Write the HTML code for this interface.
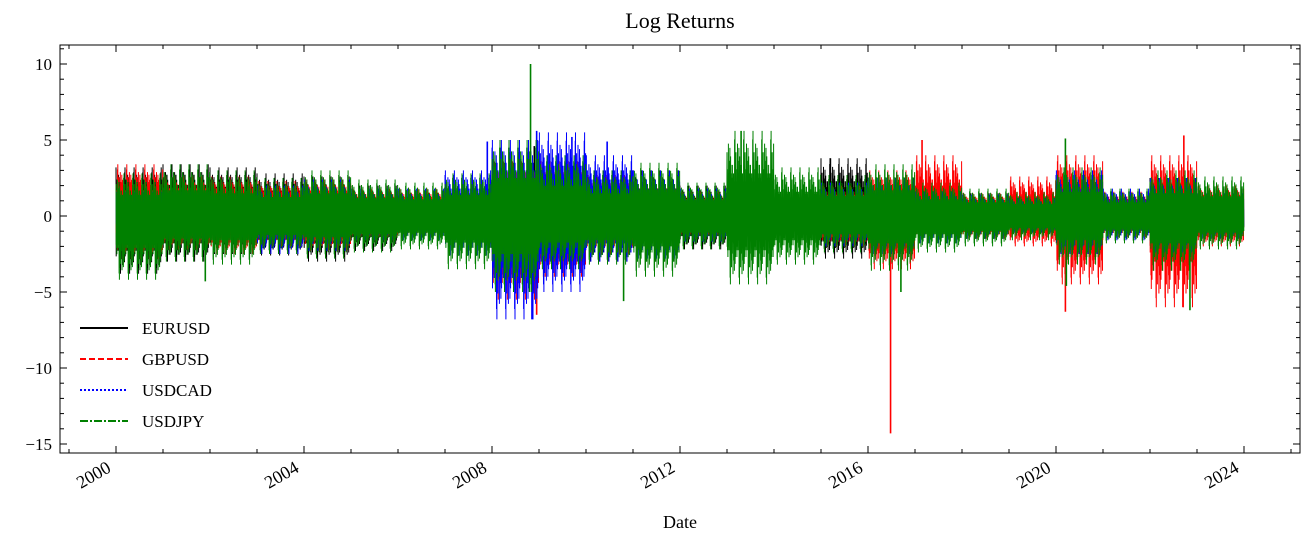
<!DOCTYPE html>
<html><head><meta charset="utf-8">
<style>
body{margin:0;background:#fff;}
svg text{font-family:"Liberation Serif","DejaVu Serif",serif;fill:#000;}
</style></head>
<body>
<svg id="chart" width="1310" height="542" viewBox="0 0 1310 542">
<rect x="0" y="0" width="1310" height="542" fill="#fff"/>
<text x="680" y="28" font-size="22" text-anchor="middle">Log Returns</text>
<text x="680" y="528" font-size="18" text-anchor="middle">Date</text>
<defs><clipPath id="pc"><rect x="60" y="45" width="1240" height="408"/></clipPath></defs>
<g id="series" clip-path="url(#pc)"></g>
<g id="axes"></g>
<g id="legend"></g>
</svg>
<script>
// Yearly envelope data (year index 2000..2023)
const years=[2000,2001,2002,2003,2004,2005,2006,2007,2008,2009,2010,2011,2012,2013,2014,2015,2016,2017,2018,2019,2020,2021,2022,2023];
const eurHi=[3.2,3.4,3.2,2.8,2.6,2.0,1.7,1.4,4.2,3.5,3.0,3.0,2.0,1.8,1.4,3.8,2.0,1.8,1.5,1.0,1.8,1.2,2.5,1.8];
const eurLo=[-3.8,-3.0,-2.5,-2.6,-3.0,-2.3,-1.6,-1.5,-4.2,-3.5,-3.0,-3.0,-2.2,-1.7,-1.5,-2.8,-1.8,-1.3,-1.5,-1.0,-1.6,-1.2,-2.8,-1.5];
const gbpHi=[3.4,2.6,2.6,2.3,2.4,1.8,1.8,1.6,3.6,3.6,2.7,2.3,1.6,1.6,1.4,2.0,3.0,4.0,1.5,2.6,4.0,1.6,4.0,2.0];
const gbpLo=[-2.8,-2.2,-2.5,-2.0,-2.3,-1.6,-1.4,-1.6,-5.5,-4.0,-2.5,-2.0,-1.5,-1.4,-1.1,-2.0,-3.5,-1.5,-1.5,-2.0,-4.5,-1.4,-6.0,-2.0];
const cadHi=[1.6,1.6,1.3,2.0,2.4,1.8,1.8,3.0,5.0,5.5,4.0,3.0,1.8,1.3,1.2,2.2,2.5,1.6,1.4,1.2,3.0,1.8,2.5,1.5];
const cadLo=[-1.5,-1.5,-1.4,-2.5,-2.3,-1.6,-1.6,-2.6,-6.8,-5.0,-3.0,-2.8,-1.7,-1.2,-1.2,-2.0,-2.5,-1.8,-1.5,-1.1,-2.5,-1.6,-2.4,-1.5];
const jpyHi=[2.8,3.4,3.0,2.5,3.0,2.4,2.2,2.8,5.0,4.0,3.0,3.5,2.2,5.6,3.2,2.7,3.4,2.2,1.8,1.6,3.2,1.8,3.0,2.6];
const jpyLo=[-4.2,-3.0,-3.2,-2.5,-2.8,-2.4,-2.2,-3.5,-5.0,-3.5,-3.2,-4.0,-2.2,-4.5,-3.2,-2.4,-3.6,-2.4,-2.0,-1.6,-3.2,-1.8,-3.6,-2.2];
// Notable spikes: [decimal year, value]
const eurSpikes=[[2008.9,4.6],[2015.2,3.8],[2009.1,-4.0]];
const gbpSpikes=[[2016.48,-14.3],[2008.95,-6.5],[2017.15,5.0],[2020.2,-6.3],[2022.72,5.3],[2022.7,-6.0],[2020.22,3.5]];
const cadSpikes=[[2008.85,-6.8],[2008.95,5.6],[2007.9,4.9],[2009.7,5.2],[2010.45,4.9]];
const jpySpikes=[[2008.82,10.0],[2008.8,-5.0],[2013.3,5.6],[2020.2,5.1],[2020.22,-4.6],[2022.85,-6.2],[2016.7,-5.0],[2001.9,-4.3],[2010.8,-5.6]];
const yTicks=[10,5,0,-5,-10,-15];
const yTickLabels=["10","5","0","\u22125","\u221210","\u221215"];
const xTicks=[2000,2004,2008,2012,2016,2020,2024];

const X=t=>116+(t-2000)*47;
const Y=v=>216-15.2*v;
const NS="http://www.w3.org/2000/svg";
function mk(tag,attrs,parent){const e=document.createElementNS(NS,tag);for(const k in attrs)e.setAttribute(k,attrs[k]);parent.appendChild(e);return e;}

const sg=document.getElementById('series');
const pat=[1,0.35,0.6,0.2,0.8,0.45,0.25,0.7,0.3,0.55,0.15,0.9,0.4,0.5,0.25,0.65,0.1,0.75,0.35,0.5,0.2,0.6,0.3,0.85,0.45];
const defs=[
 {name:'EURUSD',hi:eurHi,lo:eurLo,sp:eurSpikes,c:'#000',dash:'',off:0},
 {name:'GBPUSD',hi:gbpHi,lo:gbpLo,sp:gbpSpikes,c:'#f00',dash:'6,3',off:5},
 {name:'USDCAD',hi:cadHi,lo:cadLo,sp:cadSpikes,c:'#00f',dash:'2,2',off:11},
 {name:'USDJPY',hi:jpyHi,lo:jpyLo,sp:jpySpikes,c:'#008000',dash:'8,2,2,2',off:17}
];
defs.forEach(s=>{
  let d='';const n=260;
  years.forEach((yr,i)=>{
    for(let k=0;k<n;k++){
      const t=yr+k/n;const f=pat[(k*7+s.off)%pat.length];
      const v=(k%2?s.lo[i]:s.hi[i])*f;
      d+=(d?'L':'M')+X(t).toFixed(1)+','+Y(v).toFixed(1);
    }
  });
  const p=mk('path',{d:d,fill:'none',stroke:s.c,'stroke-width':1},sg);
  
  
  s.sp.forEach(([t,v])=>{
    const l=mk('path',{d:'M'+X(t)+','+Y(0)+'L'+X(t)+','+Y(v),stroke:s.c,'stroke-width':1.6,fill:'none'},sg);
    
    
  });
});

const ax=document.getElementById('axes');
const frame=mk('rect',{x:60,y:45,width:1240,height:408,fill:'none',stroke:'#000','stroke-width':1},ax);


for(let v=-15;v<=11;v++){
  const yy=Y(v);const major=v%5===0;const L=major?7:4;
  mk('line',{x1:60,x2:60+L,y1:yy,y2:yy,stroke:'#000'},ax);
  mk('line',{x1:1300,x2:1300-L,y1:yy,y2:yy,stroke:'#000'},ax);
}
yTicks.forEach((v,i)=>{
  const t=mk('text',{x:52,y:Y(v)+6,'font-size':17,'text-anchor':'end'},ax);
  t.textContent=yTickLabels[i];
  
  
});
for(let yr=1999;yr<=2025;yr++){
  const xx=X(yr);if(xx<60||xx>1300)continue;const major=yr%4===0;const L=major?7:4;
  mk('line',{x1:xx,x2:xx,y1:453,y2:453-L,stroke:'#000'},ax);
  mk('line',{x1:xx,x2:xx,y1:45,y2:45+L,stroke:'#000'},ax);
}
xTicks.forEach(yr=>{
  const ax0=X(yr)-4, ay0=471;
  const t=mk('text',{x:ax0,y:ay0,'font-size':18,'text-anchor':'end',transform:'rotate(-30 '+ax0+' '+ay0+')'},ax);
  t.textContent=String(yr);
  
  
});

const lg=document.getElementById('legend');
defs.forEach((s,i)=>{
  const yy=328+i*31;
  const l=mk('line',{x1:80,x2:128,y1:yy,y2:yy,stroke:s.c,'stroke-width':2,'stroke-dasharray':s.dash},lg);
  
  
  const t=mk('text',{x:142,y:yy+6,'font-size':17},lg);
  t.textContent=s.name;
  
  
});
</script>
</body></html>
